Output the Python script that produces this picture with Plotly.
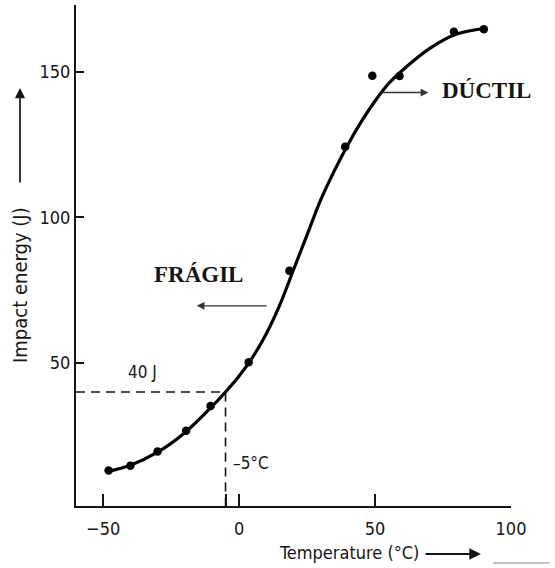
import plotly.graph_objects as go

# Measured points (temperature °C, impact energy J)
temp_pts = [-48, -40, -30, -19.5, -10.5, 3.5, 18.5, 39, 49, 59, 79, 90]
energy_pts = [13, 14.6, 19.5, 26.7, 35.2, 50.2, 81.7, 124.3, 148.7, 148.6, 163.8, 164.7]

# Fitted transition curve
curve_t = [-49, -40, -30, -20, -10, -5, 0, 5, 10, 15, 20, 25, 30, 35, 40, 45, 50, 55, 60, 70, 80, 91]
curve_e = [12.5, 14.8, 19.3, 26, 35, 40, 45.5, 52, 60, 70, 82, 94, 106, 116, 125, 133, 140, 146, 150.5, 158, 163, 165]

# Transition marker
t_trans = -5
e_trans = 40

x_ticks = [-50, -5, 0, 50, 100]
x_ticktext = ["−50", "", "0", "50", "100"]
y_ticks = [50, 100, 150]

x_range = [-60, 100]
y_range = [0.8, 173]

sans = "Liberation Sans Narrow, Arial Narrow, DejaVu Sans Condensed, Liberation Sans, sans-serif"
serif = "Liberation Serif, Times New Roman, serif"
ink = "#151515"

fig = go.Figure()

# dashed guide lines
fig.add_trace(go.Scatter(x=[x_range[0], t_trans, t_trans], y=[e_trans, e_trans, y_range[0]],
                         mode="lines", line=dict(color=ink, width=1.6, dash="9px,6px"),
                         hoverinfo="skip", showlegend=False))

fig.add_trace(go.Scatter(x=curve_t, y=curve_e, mode="lines",
                         line=dict(color="black", width=3.2, shape="spline", smoothing=1.0),
                         showlegend=False))

fig.add_trace(go.Scatter(x=temp_pts, y=energy_pts, mode="markers",
                         marker=dict(color="black", size=8.5),
                         showlegend=False))

fig.update_layout(
    width=555, height=568,
    margin=dict(l=76, r=44, t=5, b=62),
    paper_bgcolor="white", plot_bgcolor="white",
    font=dict(family=sans, color=ink, size=18),
    showlegend=False,
)

fig.update_xaxes(range=x_range, tickvals=x_ticks, ticktext=x_ticktext,
                 ticks="inside", ticklen=12, tickwidth=1.6, tickcolor=ink,
                 showline=True, linecolor=ink, linewidth=2.2, showgrid=False, zeroline=False,
                 ticklabelstandoff=5,
                 tickfont=dict(size=18, family=sans, color=ink))
fig.update_yaxes(range=y_range, tickvals=y_ticks,
                 ticks="inside", ticklen=8, tickwidth=1.6, tickcolor=ink,
                 showline=True, linecolor=ink, linewidth=2.2, showgrid=False, zeroline=False,
                 tickfont=dict(size=18, family=sans, color=ink))

def px_to_paper(px, py):
    return (px - 76) / 435, (506 - py) / 501

ann = []
# y-axis title with arrow
xp, yp = px_to_paper(20, 285)
ann.append(dict(text="Impact energy (J)", x=xp, y=yp, xref="paper", yref="paper",
                xanchor="center", yanchor="middle",
                textangle=-90, showarrow=False, font=dict(size=20, family=sans, color=ink)))
xp, yp = px_to_paper(20, 88)
ann.append(dict(text="", x=xp, y=yp, xref="paper", yref="paper", showarrow=True,
                ax=0, ay=96, arrowhead=2, arrowsize=1.2, arrowwidth=1.7, arrowcolor=ink))
# x-axis title with arrow
xp, yp = px_to_paper(349, 552)
ann.append(dict(text="Temperature (°C)", x=xp, y=yp, xref="paper", yref="paper",
                xanchor="center", yanchor="middle",
                showarrow=False, font=dict(size=18, family=sans, color=ink)))
xp, yp = px_to_paper(481, 554)
ann.append(dict(text="", x=xp, y=yp, xref="paper", yref="paper", showarrow=True,
                ax=-57, ay=0, arrowhead=2, arrowsize=1.3, arrowwidth=1.8, arrowcolor=ink))

# labels in the plot
ann.append(dict(text="<b>FRÁGIL</b>", x=-15.1, y=80.5, xref="x", yref="y", showarrow=False,
                xanchor="center", yanchor="middle",
                font=dict(size=23, family=serif, color=ink)))
ann.append(dict(text="", x=-15.6, y=69.6, xref="x", yref="y", ax=10.7, ay=69.6,
                axref="x", ayref="y", showarrow=True, arrowhead=2, arrowsize=1.1,
                arrowwidth=1.4, arrowcolor="#333333"))
ann.append(dict(text="<b>DÚCTIL</b>", x=91.0, y=143.5, xref="x", yref="y", showarrow=False,
                xanchor="center", yanchor="middle",
                font=dict(size=23, family=serif, color=ink)))
ann.append(dict(text="", x=69.6, y=142.9, xref="x", yref="y", ax=52.4, ay=142.9,
                axref="x", ayref="y", showarrow=True, arrowhead=2, arrowsize=1.1,
                arrowwidth=1.4, arrowcolor="#333333"))
ann.append(dict(text="40 J", x=-35.7, y=47.0, xref="x", yref="y", showarrow=False,
                xanchor="center", yanchor="middle",
                font=dict(size=17, family=sans, color=ink)))
ann.append(dict(text="–5°C", x=4.2, y=15.6, xref="x", yref="y", showarrow=False,
                xanchor="center", yanchor="middle",
                font=dict(size=17, family=sans, color=ink)))
fig.update_layout(annotations=ann)

# faint scan artefact under the axis title
x0, y0 = px_to_paper(493, 563)
x1, _ = px_to_paper(550, 563)
fig.add_shape(type="line", xref="paper", yref="paper", x0=x0, x1=x1, y0=y0, y1=y0,
              line=dict(color="#b0b0b0", width=1.5))

fig.write_html("out.html")
